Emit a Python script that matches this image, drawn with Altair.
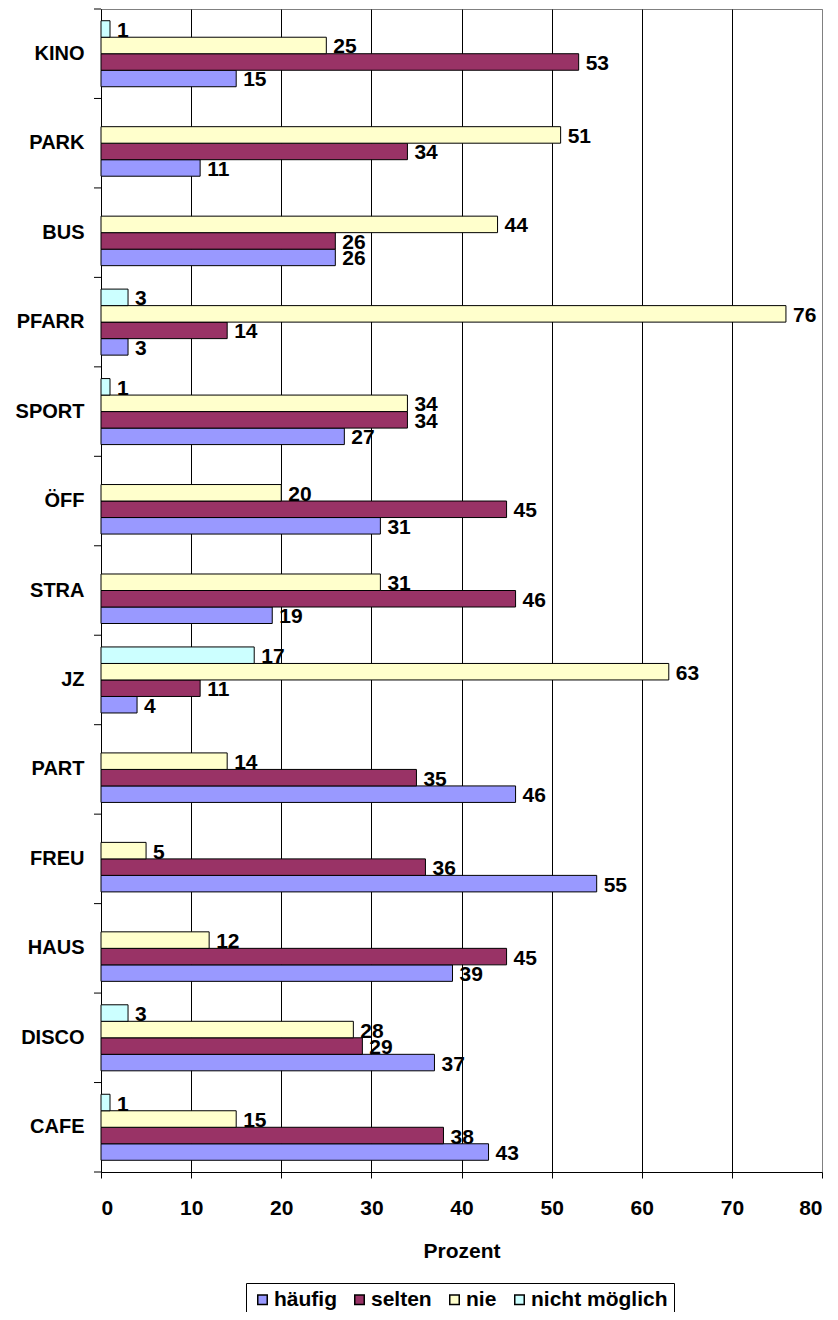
import altair as alt
import pandas as pd

categories = ["KINO", "PARK", "BUS", "PFARR", "SPORT", "ÖFF", "STRA", "JZ",
              "PART", "FREU", "HAUS", "DISCO", "CAFE"]
series = ["häufig", "selten", "nie", "nicht möglich"]
haeufig = [15, 11, 26, 3, 27, 31, 19, 4, 46, 55, 39, 37, 43]
selten = [53, 34, 26, 14, 34, 45, 46, 11, 35, 36, 45, 29, 38]
nie = [25, 51, 44, 76, 34, 20, 31, 63, 14, 5, 12, 28, 15]
nicht_moeglich = [1, None, None, 3, 1, None, None, 17, None, None, None, 3, 1]
colors = ["#9999FF", "#993366", "#FFFFCC", "#CCFFFF"]
x_ticks = [0, 10, 20, 30, 40, 50, 60, 70, 80]

rows = []
for i, c in enumerate(categories):
    for s, vals in zip(series, [haeufig, selten, nie, nicht_moeglich]):
        v = vals[i]
        if v is not None:
            rows.append({"Kategorie": c, "Serie": s, "Wert": v})
df = pd.DataFrame(rows)
cat_df = pd.DataFrame({"Kategorie": categories})
last_df = pd.DataFrame({"Kategorie": categories[-1:]})

font = "Liberation Sans"
fs = 21
offset_order = ["nicht möglich", "nie", "selten", "häufig"]

y_enc = alt.Y("Kategorie:N", sort=categories,
              scale=alt.Scale(paddingInner=0, paddingOuter=0),
              axis=alt.Axis(title=None, ticks=False,
                            labelFont=font, labelFontSize=20, labelFontWeight="bold",
                            labelColor="black", labelPadding=17,
                            domainColor="black", grid=False))
yoff = alt.YOffset("Serie:N", sort=offset_order,
                   scale=alt.Scale(paddingInner=0, paddingOuter=0.71))

bars = alt.Chart(df).mark_bar(stroke="black", strokeWidth=1).encode(
    x=alt.X("Wert:Q", scale=alt.Scale(domain=[0, 80], nice=False),
            axis=alt.Axis(title="Prozent", values=x_ticks,
                          grid=True,
                          gridColor=alt.condition("datum.value == 80",
                                                  alt.value("#808080"),
                                                  alt.value("black")),
                          gridOpacity=1,
                          tickSize=6, tickColor="black", domainColor="black",
                          labelFont=font, labelFontSize=fs, labelFontWeight="bold",
                          labelColor="black", labelPadding=19,
                          titleFont=font, titleFontSize=fs, titleFontWeight="bold",
                          titleColor="black", titlePadding=22)),
    y=y_enc,
    yOffset=yoff,
    color=alt.Color("Serie:N", scale=alt.Scale(domain=series, range=colors),
                    legend=alt.Legend(title=None, orient="none", direction="horizontal",
                                      legendX=145, legendY=1274,
                                      strokeColor="black", fillColor="white",
                                      padding=6, symbolType="square", symbolSize=90,
                                      symbolStrokeColor="black", symbolStrokeWidth=1.5,
                                      symbolOpacity=1,
                                      labelFont=font, labelFontSize=fs,
                                      labelFontWeight="bold", labelColor="black",
                                      columnPadding=12, labelOffset=1)),
)

labels = alt.Chart(df).mark_text(align="left", baseline="middle", dx=7, dy=2,
                                 font=font, fontSize=fs, fontWeight="bold",
                                 color="black").encode(
    x=alt.X("Wert:Q"),
    y=alt.Y("Kategorie:N", sort=categories),
    yOffset=alt.YOffset("Serie:N", sort=offset_order),
    text=alt.Text("Wert:Q"),
)

ticks_top = alt.Chart(cat_df).mark_rule(color="black", strokeWidth=1).encode(
    y=alt.Y("Kategorie:N", sort=categories, bandPosition=0),
    x=alt.value(-7), x2=alt.value(0),
)
ticks_bottom = alt.Chart(last_df).mark_rule(color="black", strokeWidth=1).encode(
    y=alt.Y("Kategorie:N", sort=categories, bandPosition=1),
    x=alt.value(-7), x2=alt.value(0),
)

chart = alt.layer(bars, labels, ticks_top, ticks_bottom).properties(
    width=721, height=1163,
    autosize=alt.AutoSizeParams(type="none"),
    padding={"left": 93, "top": 1, "right": 8, "bottom": 140},
).configure_view(stroke="#808080", strokeWidth=1)

chart.save("out.html", embed_options={"renderer": "svg", "actions": False})
